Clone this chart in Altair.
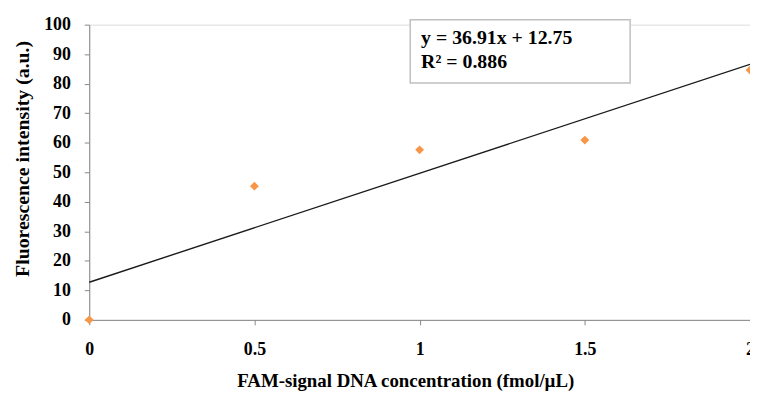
import altair as alt
import pandas as pd

# Data
conc = [0, 0.5, 1, 1.5, 2]
intensity = [0, 45.3, 57.6, 60.9, 84.6]
slope = 36.91
intercept = 12.75
eq_lines = ["y = 36.91x + 12.75", "R² = 0.886"]
x_ticks = [0, 0.5, 1, 1.5, 2]
y_ticks = [0, 10, 20, 30, 40, 50, 60, 70, 80, 90, 100]

pts = pd.DataFrame({"x": conc, "y": intensity})
trend = pd.DataFrame({"x": [0, 2], "y": [intercept, slope * 2 + intercept]})

FONT = "Liberation Serif"

xs = alt.Scale(domain=[0, 2], nice=False)
ys = alt.Scale(domain=[0, 100], nice=False)

x_axis = alt.Axis(
    values=x_ticks, format="~g", grid=False, labelFlush=False,
    title="FAM-signal DNA concentration (fmol/µL)",
    domainColor="#888888", tickColor="#888888", tickSize=5,
    labelFont=FONT, labelFontSize=18, labelFontWeight="bold", labelColor="black",
    labelPadding=16, labelOverlap=False,
    titleFont=FONT, titleFontSize=19, titleFontWeight="bold", titleColor="black",
    titleX=319, titleY=61, titleBaseline="middle", titleAlign="center",
)
y_axis = alt.Axis(
    values=y_ticks, grid=False, labelFlush=False,
    title="Fluorescence intensity (a.u.)",
    domainColor="#888888", tickColor="#888888", tickSize=5,
    labelFont=FONT, labelFontSize=18, labelFontWeight="bold", labelColor="black",
    labelPadding=14, labelOverlap=False,
    titleFont=FONT, titleFontSize=20, titleFontWeight="bold", titleColor="black",
    titleX=-67, titleY=135, titleBaseline="middle", titleAlign="center",
)

line = alt.Chart(trend).mark_line(color="#1a1a1a", strokeWidth=1.4).encode(
    x=alt.X("x:Q", scale=xs, axis=x_axis),
    y=alt.Y("y:Q", scale=ys, axis=y_axis),
)

points = alt.Chart(pts).mark_point(
    shape="diamond", filled=True, color="#F79646", size=80, opacity=1
).encode(
    x=alt.X("x:Q", scale=xs, axis=x_axis),
    y=alt.Y("y:Q", scale=ys, axis=y_axis),
)

one = pd.DataFrame({"a": [0]})

box = alt.Chart(one).mark_rect(
    fill="white", stroke="#c0c0c0", strokeWidth=1.5
).encode(
    x=alt.value(324), x2=alt.value(546), y=alt.value(-5), y2=alt.value(59)
)

def eq_layer(txt, ypix):
    return alt.Chart(one).mark_text(
        font=FONT, fontSize=20, fontWeight="bold", align="left",
        baseline="alphabetic", color="black"
    ).encode(x=alt.value(335), y=alt.value(ypix), text=alt.value(txt))

eq1 = eq_layer(eq_lines[0], 20)
eq2 = eq_layer(eq_lines[1], 44)

chart = alt.layer(line, points, box, eq1, eq2).properties(
    width=667, height=298,
    autosize=alt.AutoSizeParams(type="none"),
    padding={"left": 82, "top": 15, "right": 0, "bottom": 72},
).configure_view(stroke=None).configure(background="white")

chart.save("out.html", embed_options={"renderer": "svg", "actions": False})
